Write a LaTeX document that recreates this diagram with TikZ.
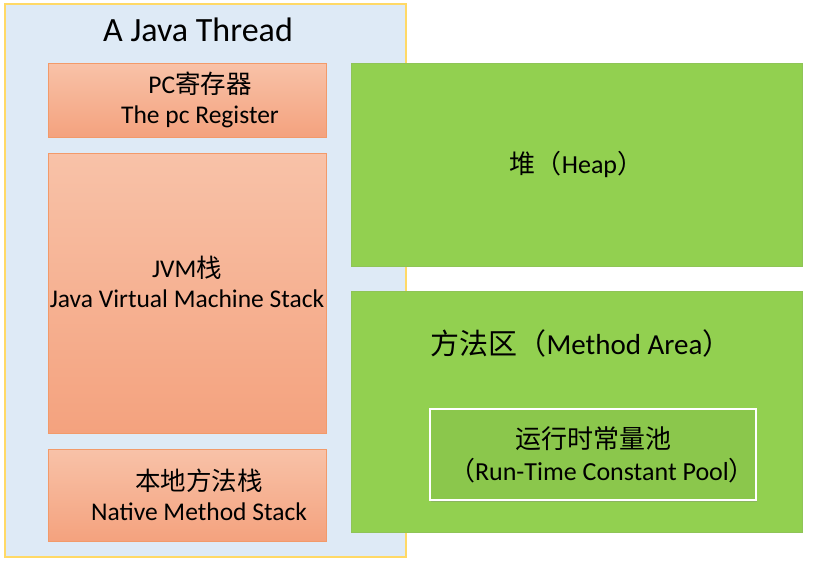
\documentclass[tikz,border=0pt]{standalone}
\usepackage{fontspec}
\setmainfont{Carlito}
\newfontfamily\cjk{Noto Sans CJK SC}
\usetikzlibrary{positioning,shadows}
\definecolor{threadfill}{HTML}{DEEAF6}
\definecolor{threadborder}{HTML}{FFD966}
\definecolor{blocktop}{HTML}{F8C2A8}
\definecolor{blockbottom}{HTML}{F4A27E}
\definecolor{blockborder}{HTML}{F29A6A}
\definecolor{areafill}{HTML}{92D050}
\definecolor{poolfill}{HTML}{8BC74C}
\tikzstyle{thread} = [draw=threadborder, fill=threadfill, rectangle,
    line width=1.2pt, inner sep=0pt]
\tikzstyle{block} = [draw=blockborder, rectangle, top color=blocktop,
    bottom color=blockbottom, line width=0.9pt, align=center, inner xsep=0pt,
    font=\fontsize{25.5}{30}\selectfont, minimum width=278pt]
\tikzstyle{area} = [draw=areafill!85!gray, fill=areafill, rectangle,
    line width=0.6pt, minimum width=451pt]
\tikzstyle{pool} = [draw=white, fill=poolfill, rectangle, line width=1.6pt,
    drop shadow={opacity=0.35, shadow xshift=1pt, shadow yshift=-1.5pt},
    minimum width=326pt, minimum height=91pt]
\tikzstyle{label} = [align=center, font=\fontsize{29}{34}\selectfont]

\begin{document}
\begin{tikzpicture}[x=1pt, y=-1pt]
    \useasboundingbox (0,0) rectangle (829,568);
    % thread side
    \node [thread, minimum width=401pt, minimum height=553pt] (thread) at (205.5,280.5) {};
    \node [font=\fontsize{34}{40}\selectfont] (title) at (198,30) {A Java Thread};
    \node [block, minimum height=74pt] (pc) at (187,100)
        {\hspace*{26pt}PC{\cjk 寄存器}\\\hspace*{26pt}The pc Register};
    \node [block, minimum height=280pt] (jvm) at (187,293) {};
    \node [align=center, font=\fontsize{25.5}{30}\selectfont] (jvmlabel)
        at ([yshift=11pt]jvm.center) {JVM{\cjk 栈}\\Java Virtual Machine Stack};
    \node [block, minimum height=92pt] (native) at (187,495)
        {\hspace*{24pt}{\cjk 本地方法栈}\\\hspace*{24pt}Native Method Stack};
    % shared areas
    \node [area, minimum height=203pt] (heap) at (576.5,164.5) {};
    \node [label, font=\fontsize{26}{31}\selectfont] at (heap.center) {{\cjk 堆（}Heap{\cjk ）}};
    \node [area, minimum height=241pt] (method) at (576.5,411.5) {};
    \node [label] (methodlabel) at (581,343) {{\cjk 方法区（}Method Area{\cjk ）}};
    \node [pool] (pool) at (593,454.5) {};
    \node [align=center, font=\fontsize{26}{32}\selectfont] at (pool.center)
        {{\cjk 运行时常量池}\\\hspace*{18pt}{\cjk （}Run-Time Constant Pool{\cjk ）}};
\end{tikzpicture}
\end{document}
